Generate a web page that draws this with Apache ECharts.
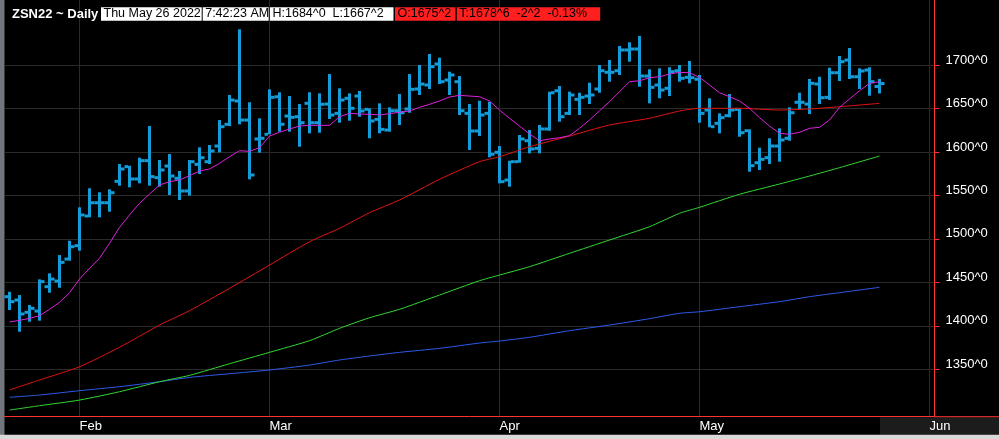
<!DOCTYPE html>
<html>
<head>
<meta charset="utf-8">
<title>ZSN22 ~ Daily</title>
<script src="https://cdn.jsdelivr.net/npm/echarts@6.0.0/dist/echarts.min.js"></script>
<style>
  html, body { margin: 0; padding: 0; background: #000; }
  #chart { width: 999px; height: 439px; }
</style>
</head>
<body>
<div id="chart"></div>
<script>
// trading days shown on the chart (MM-DD, 2022)
var dates = [
  '01-21','01-24','01-25','01-26','01-27','01-28','01-31',
  '02-01','02-02','02-03','02-04','02-07','02-08','02-09','02-10','02-11','02-14','02-15','02-16','02-17','02-18','02-22','02-23','02-24','02-25','02-28',
  '03-01','03-02','03-03','03-04','03-07','03-08','03-09','03-10','03-11','03-14','03-15','03-16','03-17','03-18','03-21','03-22','03-23','03-24','03-25','03-28','03-29','03-30','03-31',
  '04-01','04-04','04-05','04-06','04-07','04-08','04-11','04-12','04-13','04-14','04-18','04-19','04-20','04-21','04-22','04-25','04-26','04-27','04-28','04-29',
  '05-02','05-03','05-04','05-05','05-06','05-09','05-10','05-11','05-12','05-13','05-16','05-17','05-18','05-19','05-20','05-23','05-24','05-25','05-26'
];
// empty slots to the right of the last bar
var futureSlots = ['f1', 'f2', 'f3', 'f4', '06-01'];
var monthLabels = { '02-01': 'Feb', '03-01': 'Mar', '04-01': 'Apr', '05-02': 'May', '06-01': 'Jun' };

var opens = [
  1433.5,1429.7,1415.6,1417.0,1445.0,1451.5,1476.8,1492.2,1526.3,1541.6,
  1541.6,1566.2,1583.1,1568.9,1590.0,1570.4,1583.8,1569.7,1555.1,1585.7,
  1588.8,1606.8,1631.8,1658.6,1636.7,1614.9,1620.3,1663.5,1641.3,1640.5,
  1655.9,1633.6,1655.1,1644.4,1661.7,1664.3,1649.0,1637.5,1625.2,1647.4,
  1649.4,1672.4,1677.0,1701.2,1682.7,1680.8,1644.4,1624.1,1644.4,1599.6,
  1567.7,1588.8,1612.9,1604.2,1626.4,1670.4,1644.4,1660.5,1664.3,1672.4,
  1691.6,1693.4,1717.3,1718.4,1687.3,1677.0,1673.2,1693.4,1685.8,1683.6,
  1648.2,1632.9,1641.7,1649.0,1624.4,1587.6,1593.4,1606.8,1615.7,1657.1,
  1655.1,1678.1,1662.8,1691.1,1705.7,1686.5,1694.2,1675.25
];
var highs = [
  1439.2,1435.4,1423.9,1453.5,1460.4,1481.4,1497.9,1536.3,1558.2,1553.6,
  1557.0,1586.1,1584.2,1593.4,1629.8,1590.7,1597.6,1578.1,1590.7,1605.3,
  1608.0,1636.7,1665.5,1741.1,1657.1,1638.7,1672.0,1668.6,1664.3,1655.1,
  1668.6,1667.4,1689.6,1673.2,1667.4,1670.1,1650.2,1655.9,1651.3,1666.6,
  1689.6,1700.0,1712.7,1708.4,1692.3,1687.3,1655.1,1658.9,1657.8,1606.8,
  1589.9,1619.5,1625.2,1631.0,1669.3,1675.8,1669.3,1668.1,1679.6,1700.0,
  1705.7,1721.9,1726.1,1733.4,1695.1,1696.2,1697.4,1700.0,1704.6,1688.5,
  1661.7,1644.4,1666.6,1650.2,1626.0,1604.9,1615.7,1627.2,1651.3,1668.1,
  1683.9,1686.5,1696.9,1710.4,1719.6,1696.2,1697.4,1684.0
];
var lows = [
  1418.2,1393.2,1404.7,1405.9,1438.1,1443.8,1474.9,1486.4,1524.8,1524.8,
  1531.3,1561.2,1559.3,1563.9,1561.2,1560.0,1550.5,1544.7,1549.7,1574.6,
  1586.1,1599.5,1629.8,1631.8,1568.5,1599.1,1620.3,1623.3,1623.3,1606.0,
  1621.4,1622.1,1637.9,1633.6,1635.9,1640.5,1615.7,1621.4,1623.3,1631.0,
  1645.1,1665.5,1672.4,1678.1,1665.5,1642.5,1602.2,1618.3,1593.8,1563.9,
  1560.0,1587.6,1598.4,1598.4,1624.4,1634.8,1642.5,1642.5,1655.1,1668.1,
  1680.8,1688.5,1703.8,1675.0,1655.9,1661.7,1664.3,1680.8,1678.9,1633.6,
  1628.3,1621.4,1639.8,1617.5,1577.3,1579.2,1586.1,1588.8,1612.9,1649.0,
  1643.6,1655.1,1659.7,1681.6,1683.9,1672.4,1664.7,1667.25
];
var closes = [
  1427.8,1413.6,1420.1,1450.8,1453.8,1473.0,1491.0,1527.5,1541.6,1541.6,
  1553.1,1580.4,1568.9,1590.0,1571.6,1579.2,1572.3,1555.1,1588.8,1593.4,
  1601.1,1629.0,1659.7,1636.7,1573.5,1615.7,1662.8,1631.8,1639.8,1633.6,
  1633.6,1654.8,1642.5,1659.7,1650.2,1647.1,1635.6,1626.0,1647.4,1645.1,
  1672.0,1678.1,1698.1,1680.8,1688.5,1647.4,1624.1,1642.5,1597.3,1565.8,
  1588.8,1614.9,1603.4,1626.4,1668.1,1640.5,1665.5,1662.8,1665.5,1693.4,
  1691.6,1717.3,1718.4,1687.3,1674.3,1671.2,1692.3,1684.7,1685.4,1644.4,
  1629.0,1639.4,1648.2,1622.1,1584.2,1591.5,1606.8,1613.7,1645.1,1657.1,
  1678.9,1662.4,1691.1,1703.8,1686.5,1693.1,1680.8,1678.75
];

// moving averages
var maShort = [
  1404.4,1406.3,1408.6,1411.6,1419.0,1427.0,1438.1,1453.8,1466.1,1477.6,
  1494.9,1513.3,1527.5,1540.9,1551.6,1562.0,1565.8,1567.7,1572.7,1578.1,
  1580.4,1586.9,1594.5,1601.4,1600.7,1604.9,1618.3,1622.6,1626.4,1629.8,
  1630.6,1630.6,1630.6,1640.5,1644.4,1643.6,1643.3,1642.5,1644.0,1645.6,
  1647.1,1651.3,1654.8,1658.6,1663.2,1665.1,1664.3,1663.5,1658.6,1648.2,
  1638.7,1629.8,1620.6,1612.9,1614.9,1616.4,1618.7,1627.2,1636.7,1647.4,
  1657.8,1669.3,1680.8,1681.9,1685.4,1686.5,1689.6,1691.6,1691.1,1685.8,
  1677.0,1668.1,1663.5,1658.6,1650.2,1639.4,1629.8,1621.4,1620.3,1622.6,
  1627.2,1628.3,1636.7,1651.3,1660.9,1670.4,1678.9,1680.8
];
var maRed = [
  [0,1326.2],[3,1337.7],[7,1352.9],[11,1375.3],[15,1400.9],[18,1417.4],[22,1443.1],
  [26,1469.9],[30,1496.7],[33,1512.1],[36,1530.1],[39,1544.7],[43,1568.5],[47,1588.8],
  [49,1594.5],[52,1606.0],[56,1618.3],[60,1631.0],[64,1638.7],[67,1647.1],[69,1650.2],
  [73,1650.2],[77,1648.2],[80,1649.4],[83,1652.0],[87,1655.9]
];
var maGreen = [
  [0,1303.1],[3,1308.1],[7,1314.6],[11,1324.2],[15,1335.7],[18,1343.0],[22,1356.4],
  [26,1369.5],[30,1382.9],[33,1397.1],[36,1409.3],[39,1419.0],[43,1435.4],[47,1451.9],
  [49,1458.4],[52,1468.0],[56,1483.4],[60,1498.7],[64,1514.0],[67,1529.4],[69,1536.3],
  [73,1551.3],[77,1563.1],[80,1572.3],[83,1581.9],[87,1595.3]
];
var maBlue = [
  [0,1317.8],[3,1320.4],[7,1325.4],[11,1330.0],[15,1335.7],[18,1340.7],[22,1344.9],
  [26,1349.2],[30,1354.9],[33,1360.7],[36,1365.3],[39,1369.5],[43,1374.1],[47,1380.2],
  [49,1382.5],[52,1386.8],[56,1394.4],[60,1400.9],[64,1408.2],[67,1414.4],[69,1416.2],
  [73,1422.0],[77,1427.8],[80,1433.5],[83,1438.1],[87,1444.3]
];

var priceTickMin = 1350, priceTickMax = 1700, priceTickStep = 50;

var headerTitle = 'ZSN22 ~ Daily';
var headerFields = [
  { text: 'Thu May 26 2022', bg: '#ffffff' },
  { text: '7:42:23 AM', bg: '#ffffff' },
  { text: 'H:1684^0  L:1667^2', bg: '#ffffff' },
  { text: 'O:1675^2', bg: '#ff1f1f' },
  { text: 'T:1678^6  -2^2  -0.13%', bg: '#ff1f1f' }
];

// layout (pixels)
var plotLeft = 4.5, plotRight = 934.5, axisY = 416.7;
var yTop = 65, yBottom = 369.3;             // pixel rows of 1700 and 1350
var pxPer = (yBottom - yTop) / (priceTickMax - priceTickMin);
var fullMax = priceTickMax + yTop / pxPer;
var fullMin = priceTickMin - (axisY - yBottom) / pxPer;
var boxLefts = [101, 202.7, 270, 395, 456.8];
var boxWidths = [100.7, 66, 123.5, 60.5, 143.4];

var barColor = '#139cd8';
var axisRed = '#ff3333';
var gridGrey = '#2a2a2a';
var font = 'Liberation Sans';

var categories = dates.concat(futureSlots);
var ohlc = dates.map(function (d, i) {
  return [i, opens[i], highs[i], lows[i], closes[i]];
});
var shortLine = maShort.map(function (v, i) { return [i, v]; });

function isMonthStart(index, value) {
  return monthLabels.hasOwnProperty(value);
}

function renderOhlc(params, api) {
  var i = api.value(0);
  var x = api.coord([i, api.value(1)])[0];
  var yO = api.coord([i, api.value(1)])[1];
  var yH = api.coord([i, api.value(2)])[1];
  var yL = api.coord([i, api.value(3)])[1];
  var yC = api.coord([i, api.value(4)])[1];
  var st = { fill: barColor };
  return {
    type: 'group',
    children: [
      { type: 'rect', shape: { x: x - 1.5, y: yH, width: 3, height: Math.max(yL - yH, 1) }, style: st },
      { type: 'rect', shape: { x: x - 5, y: yO - 1.5, width: 3.5, height: 3 }, style: st },
      { type: 'rect', shape: { x: x + 1.5, y: yC - 1.5, width: 3.5, height: 3 }, style: st }
    ]
  };
}

function maSeries(name, data, color) {
  return {
    name: name,
    type: 'line',
    xAxisIndex: 0,
    yAxisIndex: 0,
    data: data,
    showSymbol: false,
    smooth: 0.2,
    lineStyle: { color: color, width: 1 },
    z: 6,
    silent: true
  };
}

// frame pieces and header: title + boxed fields
var graphics = [
  { type: 'rect', z: -1, shape: { x: 0, y: 0, width: 4.5, height: 435 }, style: { fill: '#71757c' } },
  { type: 'rect', z: -1, shape: { x: 880, y: 417.2, width: 119, height: 17.5 }, style: { fill: '#1c1c1c' } },
  { type: 'rect', shape: { x: 0, y: 434.7, width: 999, height: 4.3 }, style: { fill: '#d9d9d9' } },
  { type: 'line', shape: { x1: plotRight, y1: axisY, x2: 999, y2: axisY }, style: { stroke: axisRed, lineWidth: 1 } },
  {
    type: 'text', x: 12, y: 14, z: 11,
    style: { text: headerTitle, fill: '#fff', font: 'bold 13px "' + font + '"', verticalAlign: 'middle' }
  }
];
headerFields.forEach(function (f, k) {
  graphics.push({ type: 'rect', shape: { x: boxLefts[k], y: 7.3, width: boxWidths[k], height: 13.4 }, style: { fill: f.bg }, z: 10 });
  graphics.push({
    type: 'text', x: boxLefts[k] + 2.5, y: 14, z: 11,
    style: { text: f.text, fill: '#000', font: '12.5px "' + font + '"', verticalAlign: 'middle' }
  });
});

var chart = echarts.init(document.getElementById('chart'));
chart.setOption({
  backgroundColor: '#000',
  animation: false,
  grid: [
    { left: plotLeft, right: 999 - plotRight, top: 0, height: axisY },
    { left: plotLeft, right: 999 - plotRight, top: yTop, height: yBottom - yTop }
  ],
  xAxis: [
    {
      type: 'category',
      gridIndex: 0,
      data: categories,
      boundaryGap: true,
      axisLine: { lineStyle: { color: axisRed, width: 1 } },
      axisTick: { interval: isMonthStart, alignWithLabel: true, length: 5, lineStyle: { color: axisRed } },
      axisLabel: {
        interval: isMonthStart,
        formatter: function (v) { return monthLabels[v] || ''; },
        color: '#fff', fontSize: 13, fontFamily: font, align: 'left', margin: 3
      },
      splitLine: { show: true, interval: isMonthStart, alignWithLabel: true, lineStyle: { color: gridGrey, width: 1 } }
    },
    { type: 'value', gridIndex: 1, show: false, min: 0, max: 1 }
  ],
  yAxis: [
    {
      type: 'value',
      gridIndex: 0,
      position: 'right',
      min: fullMin,
      max: fullMax,
      axisLine: { show: true, onZero: false, lineStyle: { color: axisRed, width: 1 } },
      axisTick: { show: false },
      axisLabel: { show: false },
      splitLine: { show: false }
    },
    {
      type: 'value',
      gridIndex: 1,
      position: 'right',
      min: priceTickMin,
      max: priceTickMax,
      interval: priceTickStep,
      axisLine: { show: false, onZero: false },
      axisTick: { show: true, length: 5, lineStyle: { color: axisRed } },
      axisLabel: {
        color: '#fff', fontSize: 13, fontFamily: font, margin: 11,
        verticalAlign: 'bottom', lineHeight: 10,
        formatter: function (v) { return v + '^0'; }
      },
      splitLine: { show: true, lineStyle: { color: gridGrey, width: 1 } }
    }
  ],
  series: [
    {
      name: 'ZSN22',
      type: 'custom',
      xAxisIndex: 0,
      yAxisIndex: 0,
      renderItem: renderOhlc,
      encode: { x: 0, y: [1, 2, 3, 4] },
      data: ohlc,
      z: 4,
      silent: true
    },
    maSeries('MA blue', maBlue, '#2f5ae8'),
    maSeries('MA green', maGreen, '#33d633'),
    maSeries('MA red', maRed, '#e01414'),
    {
      name: 'MA short',
      type: 'line',
      xAxisIndex: 0,
      yAxisIndex: 0,
      data: shortLine,
      showSymbol: false,
      lineStyle: { color: '#dd22dd', width: 1 },
      z: 6,
      silent: true
    }
  ],
  graphic: graphics
});
</script>
</body>
</html>
